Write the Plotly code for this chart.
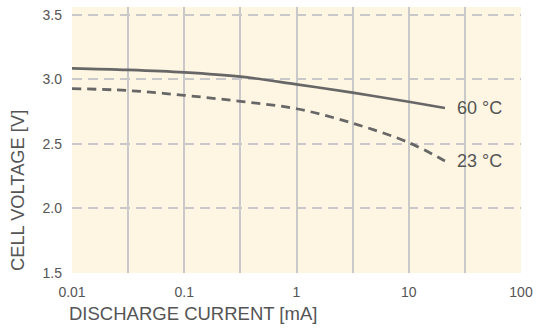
#############################################
########## 1. Load libraries
#############################################
import math
import plotly.graph_objs as go

#############################################
########## 2. Data
#############################################
current_ma = [0.01, 0.0316, 0.1, 0.316, 1, 3.16, 10, 21]
voltage_60c = [3.085, 3.073, 3.054, 3.021, 2.961, 2.897, 2.826, 2.778]
voltage_23c = [2.928, 2.913, 2.876, 2.829, 2.772, 2.66, 2.51, 2.367]

x_tick_values = [0.01, 0.1, 1, 10, 100]
x_tick_labels = ['0.01', '0.1', '1', '10', '100']
x_grid_values = [0.0316, 0.1, 0.316, 1, 3.16, 10, 31.6]
y_tick_values = [1.5, 2.0, 2.5, 3.0, 3.5]
y_tick_labels = ['1.5', '2.0', '2.5', '3.0', '3.5']
y_grid_values = [2.0, 2.5, 3.0, 3.5]

#############################################
########## 3. Plot
#############################################
line_color = '#676767'
text_color = '#555555'
grid_color = '#c9c9c9'
font_family = 'Liberation Sans, Arial, sans-serif'

trace_60 = go.Scatter(x=current_ma, y=voltage_60c, mode='lines', name='60 °C', hoverinfo='skip',
	line=dict(color=line_color, width=2.6, shape='spline', smoothing=1.0))
trace_23 = go.Scatter(x=current_ma, y=voltage_23c, mode='lines', name='23 °C', hoverinfo='skip',
	line=dict(color=line_color, width=2.8, dash='9px,6px', shape='spline', smoothing=1.0))

# Labels at line ends
annotations = []
for label, values in [('60 °C', voltage_60c), ('23 °C', voltage_23c)]:
	annotations.append(dict(x=math.log10(current_ma[-1]), y=values[-1], xref='x', yref='y',
		text=label, showarrow=False, xanchor='left', yanchor='middle', xshift=10,
		font=dict(size=18, color=text_color, family=font_family)))

# Axis titles
annotations.append(dict(x=-55 / 453, y=0, xref='paper', yref='paper', text='CELL VOLTAGE [V]',
	textangle=-90, showarrow=False, xanchor='center', yanchor='bottom',
	font=dict(size=18.3, color=text_color, family=font_family)))
annotations.append(dict(x=-5 / 453, y=-40 / 266, xref='paper', yref='paper', text='DISCHARGE CURRENT [mA]',
	showarrow=False, xanchor='left', yanchor='middle',
	font=dict(size=18.5, color=text_color, family=font_family)))

layout = go.Layout(
	width=540, height=328,
	margin=dict(l=72, r=15, t=7, b=55),
	paper_bgcolor='white', plot_bgcolor='#fef5e2',
	showlegend=False, hovermode=False,
	font=dict(family=font_family, size=14, color=text_color),
	xaxis=dict(type='log', range=[-2, 2], tickvals=x_tick_values, ticktext=x_tick_labels,
		showgrid=False, zeroline=False, showline=False, ticks='', ticklabelstandoff=9,
		minor=dict(tickvals=x_grid_values, showgrid=True, gridcolor=grid_color, gridwidth=1.5, ticks=''),
		tickfont=dict(size=14, color=text_color)),
	yaxis=dict(range=[1.5, 3.56], tickvals=y_tick_values, ticktext=y_tick_labels,
		showgrid=False, zeroline=False, showline=False, ticks='', ticklabelstandoff=9,
		minor=dict(tickvals=y_grid_values, showgrid=True, gridcolor=grid_color, gridwidth=1.5,
			griddash='10px,6px', ticks=''),
		tickfont=dict(size=14, color=text_color)),
	annotations=annotations)

fig = go.Figure(data=[trace_60, trace_23], layout=layout)

# Drop the default page margin so the figure sits at the window's corner
fig.write_html('out.html', config={'displayModeBar': False},
	post_script="document.body.style.margin = '0';")
